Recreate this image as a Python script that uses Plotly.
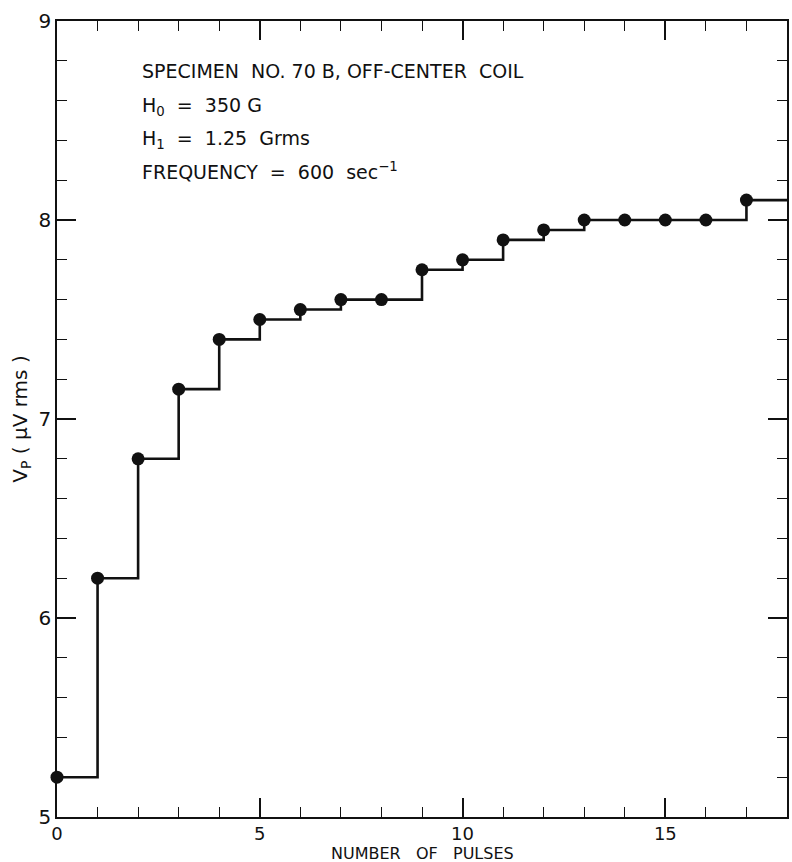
import plotly.graph_objects as go

# Pulse count and measured peak voltage after each pulse
pulses = [0, 1, 2, 3, 4, 5, 6, 7, 8, 9, 10, 11, 12, 13, 14, 15, 16, 17]
vp_urms = [5.2, 6.2, 6.8, 7.15, 7.4, 7.5, 7.55, 7.6, 7.6, 7.75,
           7.8, 7.9, 7.95, 8.0, 8.0, 8.0, 8.0, 8.1]

x_range = [0, 18]
y_range = [5, 9]
x_ticks = [0, 5, 10, 15]
y_ticks = [5, 6, 7, 8, 9]

note_lines = [
    "SPECIMEN  NO. 70 B, OFF-CENTER  COIL",
    "H<sub>0</sub>  =  350 G",
    "H<sub>1</sub>  =  1.25  Grms",
    "FREQUENCY  =  600  sec<sup>−1</sup>",
]

FONT = "DejaVu Sans"
INK = "#111111"

# plot-area edges in pixels
L, R, T, B = 57, 789, 21, 817
W, H = 792, 862

fig = go.Figure()

# Staircase: each level holds until the next pulse, last level runs to the axis end
fig.add_trace(go.Scatter(
    x=pulses + [x_range[1]],
    y=vp_urms + [vp_urms[-1]],
    mode="lines",
    line=dict(shape="hv", color=INK, width=2.6),
    hoverinfo="skip",
    showlegend=False,
))
fig.add_trace(go.Scatter(
    x=pulses,
    y=vp_urms,
    mode="markers",
    marker=dict(size=13, color=INK),
    showlegend=False,
    cliponaxis=False,
))

axis_common = dict(
    showline=True, linecolor=INK, linewidth=1.5, mirror="allticks",
    ticks="inside", ticklen=19, tickwidth=1.5, tickcolor=INK,
    showgrid=False, zeroline=False,
)

fig.update_xaxes(
    range=x_range, tickvals=x_ticks,
    tickfont=dict(family=FONT, size=18, color=INK),
    minor=dict(dtick=1, ticks="inside", ticklen=10, tickwidth=1.3, tickcolor=INK, showgrid=False),
    **axis_common,
)
fig.update_yaxes(
    range=y_range, tickvals=y_ticks,
    tickfont=dict(family=FONT, size=20, color=INK),
    minor=dict(dtick=0.2, ticks="inside", ticklen=10, tickwidth=1.3, tickcolor=INK, showgrid=False),
    title=dict(text="V<sub>P</sub> ( μV rms )", font=dict(family=FONT, size=20, color=INK), standoff=6),
    **axis_common,
)

# x-axis title, set just beneath the tick labels
fig.add_annotation(
    text="NUMBER   OF   PULSES", xref="paper", yref="paper",
    x=0.5, y=-(853 - B) / (B - T),
    xanchor="center", yanchor="middle", showarrow=False, borderpad=0,
    font=dict(family=FONT, size=16, color=INK),
)

line_y = [71, 107, 139, 171]
for text, py in zip(note_lines, line_y):
    fig.add_annotation(
        text=text, xref="paper", yref="paper",
        x=(140 - L) / (R - L), y=1 - (py - T) / (B - T),
        xanchor="left", yanchor="middle", showarrow=False,
        font=dict(family=FONT, size=19, color=INK),
    )

fig.update_layout(
    width=W, height=H,
    margin=dict(l=L, r=W - R, t=T, b=H - B),
    paper_bgcolor="white", plot_bgcolor="white",
)

fig.write_html("out.html")
